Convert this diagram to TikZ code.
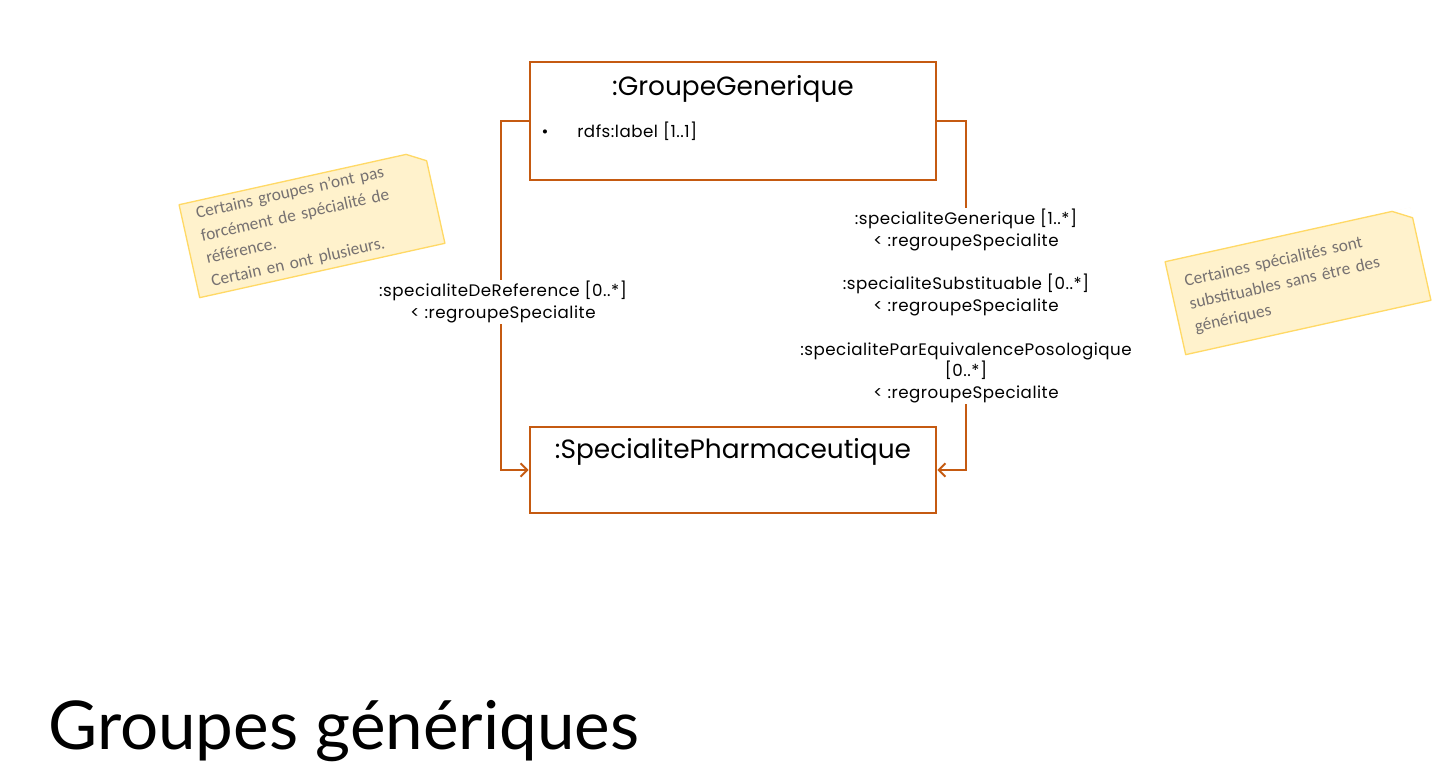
\documentclass[tikz,border=0pt]{standalone}
\usepackage{fontspec}
\setmainfont{Poppins}
\newfontfamily\notefont{Carlito}
\newfontfamily\titlefont{Lato}
\usetikzlibrary{arrows.meta,positioning,calc}
\definecolor{umlorange}{HTML}{C55A11}
\definecolor{notefill}{HTML}{FFF2CC}
\definecolor{noteline}{HTML}{FFD966}
\definecolor{notetext}{HTML}{767171}
\tikzset{%
  >={Straight Barb[length=5pt,width=10pt]},
  % Specifications for style of nodes:
   classbox/.style = {rectangle, draw=umlorange, line width=1.5pt,
                      minimum width=305pt},
  classname/.style = {font=\fontsize{19.8}{23}\selectfont, inner sep=0pt},
   attribut/.style = {font=\addfontfeature{LetterSpace=3}\fontsize{12.5}{14}\selectfont, inner sep=0pt},
      assoc/.style = {draw=umlorange, line width=1.5pt, ->},
  rolelabel/.style = {fill=white, align=center, inner sep=1pt,
                      font=\addfontfeature{LetterSpace=3}\fontsize{12.5}{16.3}\selectfont},
   notebody/.style = {fill=notefill, rotate=12.5, align=left,
                      text width=166pt, inner xsep=11pt, minimum height=71pt,
                      text=notetext, font=\notefont\fontsize{13}{17.5}\selectfont},
   noteedge/.style = {draw=noteline, line width=1pt, line join=round},
}
\begin{document}
\begin{tikzpicture}[x=0.75pt, y=-0.75pt]
  \useasboundingbox (0,0) rectangle (1442,782);
  % Classes
  \node (groupe)     [classbox, minimum height=88pt] at (733,121) {};
  \node (specialite) [classbox, minimum height=64pt] at (733,470) {};
  \node (groupeNom) [classname, anchor=base] at (733,95) {:GroupeGenerique};
  \node (puce)      [attribut, anchor=base] at (545,137) {\textbullet};
  \node (groupeAttr) [attribut, anchor=base west] at (577,137) {rdfs:label [1..1]};
  \node (specialiteNom) [classname, anchor=base] at (733,458) {:SpecialitePharmaceutique};
  % Associations
  \draw[assoc] (groupe.west) -- ++(-28,0) |- (specialite.west);
  \draw[assoc] (groupe.east) -- ++(29,0) |- (specialite.east);
  \node (roleRef) [rolelabel] at (503,302) {:specialiteDeReference [0..*]\\< :regroupeSpecialite};
  \node (roleGen) [rolelabel] at (966,306) {:specialiteGenerique [1..*]\\< :regroupeSpecialite\\[16.3pt]
    :specialiteSubstituable [0..*]\\< :regroupeSpecialite\\[16.3pt]
    :specialiteParEquivalencePosologique\\{}[0..*]\\< :regroupeSpecialite};
  % Notes
  \node (noteRef) [notebody] at (312,224) {Certains groupes n’ont pas\\forcément de spécialité de\\référence.\\Certain en ont plusieurs.};
  \node (noteSub) [notebody] at (1298,281) {Certaines spécialités sont\\substituables sans être des\\génériques\\[22pt]};
  \foreach \n in {noteRef,noteSub} {
    \fill[white] (\n.north east) -- ($(\n.north east)!14pt!(\n.north west)$)
      -- ($(\n.north east)!8pt!(\n.south east)$) -- cycle;
    \draw[noteedge] (\n.north west) -- ($(\n.north east)!14pt!(\n.north west)$)
      -- ($(\n.north east)!8pt!(\n.south east)$) -- (\n.south east)
      -- (\n.south west) -- cycle;
  }
  % Title
  \node (titre) [font=\titlefont\fontsize{50.5}{60}\selectfont, anchor=base west, inner sep=0pt]
    at (48,749) {Groupes génériques};
\end{tikzpicture}
\end{document}
